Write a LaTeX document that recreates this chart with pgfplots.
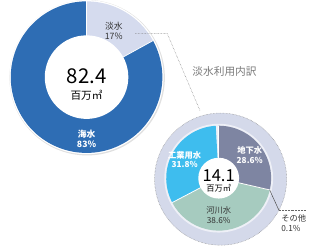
\documentclass[border=0pt]{standalone}
\usepackage{pgfplots}
\pgfplotsset{compat=1.18}
\usepackage{pgfplotstable}
\usepackage{fontspec}
\setmainfont{Noto Sans CJK JP}
\definecolor{seawater}{HTML}{2E6DB4}
\definecolor{freshwater}{HTML}{D5DBEE}
\definecolor{ground}{HTML}{7E85A2}
\definecolor{river}{HTML}{A6CBBF}
\definecolor{industrial}{HTML}{3EBDEE}
\definecolor{ringcol}{HTML}{D4D9EA}
\definecolor{darktext}{HTML}{333333}
\definecolor{titlegray}{HTML}{7A7A7A}

\pgfplotstableread{
name pct
freshwater 17
seawater 83
}\bigdata
\pgfplotstableread{
name pct
ground 28.6
other 0.1
river 38.6
industrial 31.8
}\smalldata

\newcommand\getpct[3]{\pgfplotstablegetelem{#2}{pct}\of#1\global\let#3\pgfplotsretval}
\newcommand\slice[6]{\fill[#6] (axis cs:#1,#2) -- ++(#4:#3pt) arc[start angle=#4,end angle=#5,radius=#3pt] -- cycle;}
\newcommand\sep[4]{\draw[white, line width=0.8pt] (axis cs:#1,#2) -- ++(#4:#3pt);}

\begin{document}
\begin{tikzpicture}
\getpct{\bigdata}{0}{\pFresh}
\getpct{\bigdata}{1}{\pSea}
\getpct{\smalldata}{0}{\pGround}
\getpct{\smalldata}{1}{\pOther}
\getpct{\smalldata}{2}{\pRiver}
\getpct{\smalldata}{3}{\pInd}
\pgfmathsetmacro\bA{90}
\pgfmathsetmacro\bB{90-3.6*\pFresh}
\pgfmathsetmacro\bC{\bB-3.6*\pSea}
\pgfmathsetmacro\sA{90}
\pgfmathsetmacro\sB{\sA-3.6*\pGround}
\pgfmathsetmacro\sC{\sB-3.6*\pOther}
\pgfmathsetmacro\sD{\sC-3.6*\pRiver}
\pgfmathsetmacro\sE{\sD-3.6*\pInd}
\begin{axis}[x=1pt, y=1pt, xmin=0, xmax=310, ymin=0, ymax=258,
  hide axis, scale only axis, clip=false]
\path (axis cs:0,0) rectangle (axis cs:310,258);
% big donut
\fill[black!12] (axis cs:80.6,178.4) circle[radius=80pt];
\fill[white] (axis cs:80,179) circle[radius=79.3pt];
\slice{80}{179}{78}{\bA}{\bB}{freshwater}
\slice{80}{179}{78}{\bB}{\bC}{seawater}
\sep{80}{179}{78}{\bB}
\sep{80}{179}{78}{\bA}
\fill[white] (axis cs:80,179) circle[radius=43pt];
% dotted connector
\draw[black!55, densely dotted, line width=0.5pt] (axis cs:130,224) -- (axis cs:163,224) -- (axis cs:197,144);
% small ring
\fill[ringcol] (axis cs:218,74) circle[radius=68pt];
\draw[black!45, densely dotted, line width=0.5pt] (axis cs:218,74) circle[radius=68pt];
\fill[white!60!ringcol] (axis cs:216,75) circle[radius=56pt];
\slice{216}{75}{54}{\sA}{\sB}{ground}
\slice{216}{75}{54}{\sB}{\sC}{darktext}
\slice{216}{75}{54}{\sC}{\sD}{river}
\slice{216}{75}{54}{\sD}{\sE}{industrial}
\sep{216}{75}{54}{\sA}
\sep{216}{75}{54}{\sB}
\sep{216}{75}{54}{\sD}
\fill[white] (axis cs:216,75) circle[radius=21pt];
% leader for other
\draw[black!70, line width=0.5pt] (axis cs:268.6,62.5) -- (axis cs:278,42);
\draw[black!60, densely dotted, line width=0.5pt] (axis cs:278,42) -- (axis cs:306,42);
% texts
\node[font=\fontsize{21}{21}\selectfont, text=black] at (axis cs:80,180) {82.4};
\node[font=\fontsize{11}{11}\selectfont, text=black] at (axis cs:80,160) {百万㎥};
\node[align=center, font=\fontsize{9}{10.5}\selectfont, text=darktext] at (axis cs:108,226.5) {淡水\\17\%};
\node[align=center, font=\fontsize{9}{10.5}\selectfont\bfseries, text=white] at (axis cs:80,115.5) {海水\\83\%};
\node[font=\fontsize{11}{11}\selectfont, text=titlegray] at (axis cs:222,185) {淡水利用内訳};
\node[font=\fontsize{17}{17}\selectfont, text=black] at (axis cs:216,78) {14.1};
\node[font=\fontsize{8.5}{8.5}\selectfont, text=black] at (axis cs:216,65) {百万㎥};
\node[align=center, font=\fontsize{8.5}{10}\selectfont\bfseries, text=white] at (axis cs:181,94.3) {工業用水\\31.8\%};
\node[align=center, font=\fontsize{8.5}{10}\selectfont\bfseries, text=white] at (axis cs:248,98.7) {地下水\\28.6\%};
\node[align=center, font=\fontsize{8.5}{10}\selectfont, text=darktext] at (axis cs:216,37) {河川水\\38.6\%};
\node[align=left, anchor=west, font=\fontsize{8.5}{10}\selectfont, text=darktext] at (axis cs:277,28.5) {その他\\0.1\%};
\end{axis}
\end{tikzpicture}
\end{document}
